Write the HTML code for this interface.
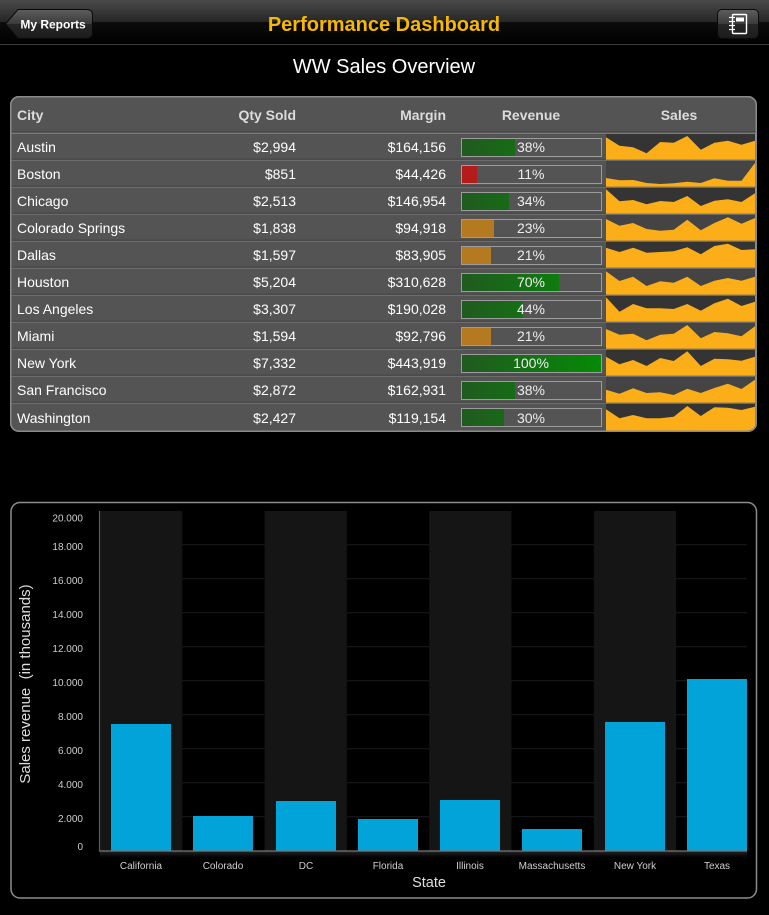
<!DOCTYPE html>
<html><head><meta charset="utf-8">
<style>
html,body{margin:0;padding:0;background:#000;}
body{width:769px;height:915px;position:relative;overflow:hidden;font-family:"Liberation Sans",Arial,sans-serif;}
svg{position:absolute;left:0;top:0;}
</style></head>
<body>
<svg width="769" height="915" viewBox="0 0 769 915" xmlns="http://www.w3.org/2000/svg" font-family="Liberation Sans, Arial, sans-serif">
<defs>
  <linearGradient id="nav" x1="0" y1="0" x2="0" y2="1">
    <stop offset="0" stop-color="#4a4a4a"/>
    <stop offset="0.5" stop-color="#262626"/>
    <stop offset="0.5" stop-color="#0c0c0c"/>
    <stop offset="1" stop-color="#000"/>
  </linearGradient>
  <linearGradient id="btn" x1="0" y1="0" x2="0" y2="1">
    <stop offset="0" stop-color="#5e5e5e"/>
    <stop offset="0.5" stop-color="#3a3a3a"/>
    <stop offset="0.5" stop-color="#262626"/>
    <stop offset="1" stop-color="#1c1c1c"/>
  </linearGradient>
  <linearGradient id="grn" gradientUnits="userSpaceOnUse" x1="462" y1="0" x2="601" y2="0">
    <stop offset="0" stop-color="#215a21"/>
    <stop offset="1" stop-color="#058a05"/>
  </linearGradient>
  <linearGradient id="shd" x1="0" y1="0" x2="0" y2="1">
    <stop offset="0" stop-color="#2a2a2a"/>
    <stop offset="1" stop-color="#000"/>
  </linearGradient>
  <clipPath id="tclip"><rect x="11.5" y="97.5" width="744" height="333" rx="7.5"/></clipPath>
</defs>

<!-- NAV BAR -->
<rect x="0" y="0" width="769" height="44" fill="url(#nav)"/>
<rect x="0" y="44" width="769" height="1" fill="#3a3a3a"/>
<path d="M5.5,24 L18,9.5 L86,9.5 Q92.5,9.5 92.5,15 L92.5,33 Q92.5,38.5 86,38.5 L18,38.5 Z" fill="url(#btn)" stroke="#0a0a0a" stroke-width="1"/>
<text x="53" y="28.5" font-size="12" font-weight="bold" fill="#fff" text-anchor="middle">My Reports</text>
<rect x="717.5" y="9.5" width="41" height="29" rx="4.5" fill="url(#btn)" stroke="#0a0a0a" stroke-width="1"/>
<g fill="none" stroke="#fff" stroke-width="1.4">
  <rect x="732.5" y="14.5" width="14" height="19" rx="1"/>
</g>
<rect x="736" y="17.5" width="8" height="4" fill="#fff"/>
<g stroke="#fff" stroke-width="1.2">
  <line x1="729" y1="17.5" x2="735" y2="17.5"/>
  <line x1="729" y1="21.5" x2="735" y2="21.5"/>
  <line x1="729" y1="25.5" x2="735" y2="25.5"/>
  <line x1="729" y1="29.5" x2="735" y2="29.5"/>
</g>
<text x="384" y="31" font-size="20" font-weight="bold" fill="#f6b800" text-anchor="middle">Performance Dashboard</text>

<text x="384" y="73" font-size="20" fill="#fff" text-anchor="middle">WW Sales Overview</text>

<!-- TABLE -->
<rect x="10.75" y="96.75" width="745.5" height="334.5" rx="8" fill="#545454" stroke="#8a8a8a" stroke-width="1.5"/>
<g clip-path="url(#tclip)">
  <!-- sparkline backgrounds -->
  <rect x="606" y="134" width="150" height="26" fill="#343434"/>
  <rect x="606" y="161" width="150" height="26" fill="#444"/>
  <rect x="606" y="188" width="150" height="26" fill="#343434"/>
  <rect x="606" y="215" width="150" height="26" fill="#444"/>
  <rect x="606" y="242" width="150" height="26" fill="#343434"/>
  <rect x="606" y="269" width="150" height="26" fill="#444"/>
  <rect x="606" y="296" width="150" height="26" fill="#343434"/>
  <rect x="606" y="323" width="150" height="26" fill="#444"/>
  <rect x="606" y="350" width="150" height="26" fill="#343434"/>
  <rect x="606" y="377" width="150" height="26" fill="#444"/>
  <rect x="606" y="404" width="150" height="27" fill="#343434"/>
  <g fill="#fbae18">
    <polygon points="606,137.3 619.5,145.7 633.1,147.3 646.6,153.3 660.2,142 673.7,142.7 687.3,136 700.8,149.7 714.4,142.7 727.9,140.7 741.5,144.7 755,140.7 755,160 606,160"/>
    <polygon points="606,178 619.5,180.3 633.1,180 646.6,183 660.2,184 673.7,183.3 687.3,181.7 700.8,183 714.4,178.3 727.9,180.7 741.5,180.7 755,163 755,187 606,187"/>
    <polygon points="606,189.3 619.5,201.3 633.1,200 646.6,204.3 660.2,201 673.7,202 687.3,196 700.8,206 714.4,200.7 727.9,199.3 741.5,202 755,193.3 755,214 606,214"/>
    <polygon points="606,219 619.5,225.7 633.1,223 646.6,229 660.2,230.7 673.7,229.7 687.3,219.7 700.8,230.3 714.4,223 727.9,217.3 741.5,223.7 755,218 755,241 606,241"/>
    <polygon points="606,247.7 619.5,252 633.1,247.7 646.6,252.7 660.2,252 673.7,251.3 687.3,247.3 700.8,254.3 714.4,246 727.9,243.7 741.5,250 755,249.3 755,268 606,268"/>
    <polygon points="606,271.3 619.5,281 633.1,276.7 646.6,286 660.2,281.3 673.7,282.7 687.3,276.7 700.8,286 714.4,280.7 727.9,278 741.5,280.7 755,276.7 755,295 606,295"/>
    <polygon points="606,297.3 619.5,311.7 633.1,304 646.6,308.3 660.2,308.3 673.7,309 687.3,304 700.8,310.7 714.4,303.3 727.9,298.7 741.5,306 755,301.7 755,322 606,322"/>
    <polygon points="606,329 619.5,334.7 633.1,333.7 646.6,340.3 660.2,334.7 673.7,333.7 687.3,325 700.8,338.3 714.4,332 727.9,333.3 741.5,336.3 755,326.3 755,349 606,349"/>
    <polygon points="606,356.7 619.5,364.3 633.1,360 646.6,366 660.2,358 673.7,361 687.3,351.3 700.8,366 714.4,358.7 727.9,359.3 741.5,360.7 755,356.7 755,376 606,376"/>
    <polygon points="606,389.7 619.5,393.7 633.1,388.3 646.6,393 660.2,392.3 673.7,395 687.3,388.7 700.8,393 714.4,388 727.9,383.7 741.5,389 755,379.7 755,403 606,403"/>
    <polygon points="606,409.3 619.5,418.3 633.1,415 646.6,418.3 660.2,418.3 673.7,416.7 687.3,406 700.8,416 714.4,407.3 727.9,407.7 741.5,410 755,406.7 755,431 606,431"/>
  </g>
  <rect x="755" y="134" width="2" height="298" fill="#8a8a8a"/>
  <!-- separators -->
  <g fill="#6c6c6c">
    <rect x="11" y="132.5" width="745" height="1.5" fill="#7a7a7a"/>
    <rect x="11" y="159.6" width="745" height="1.4"/>
    <rect x="11" y="186.6" width="745" height="1.4"/>
    <rect x="11" y="213.6" width="745" height="1.4"/>
    <rect x="11" y="240.6" width="745" height="1.4"/>
    <rect x="11" y="267.6" width="745" height="1.4"/>
    <rect x="11" y="294.6" width="745" height="1.4"/>
    <rect x="11" y="321.6" width="745" height="1.4"/>
    <rect x="11" y="348.6" width="745" height="1.4"/>
    <rect x="11" y="375.6" width="745" height="1.4"/>
    <rect x="11" y="402.6" width="745" height="1.4"/>
  </g>
  <g fill="#3a3a3a">
    <rect x="11" y="131.5" width="745" height="1"/>
    <rect x="11" y="158.8" width="595" height="0.8"/>
    <rect x="11" y="185.8" width="595" height="0.8"/>
    <rect x="11" y="212.8" width="595" height="0.8"/>
    <rect x="11" y="239.8" width="595" height="0.8"/>
    <rect x="11" y="266.8" width="595" height="0.8"/>
    <rect x="11" y="293.8" width="595" height="0.8"/>
    <rect x="11" y="320.8" width="595" height="0.8"/>
    <rect x="11" y="347.8" width="595" height="0.8"/>
    <rect x="11" y="374.8" width="595" height="0.8"/>
    <rect x="11" y="401.8" width="595" height="0.8"/>
  </g>
</g>
<rect x="10.75" y="96.75" width="745.5" height="334.5" rx="8" fill="none" stroke="#8a8a8a" stroke-width="1.5"/>

<!-- header text -->
<g font-size="14" font-weight="bold" fill="#dcdcdc">
  <text x="17" y="120">City</text>
  <text x="296" y="120" text-anchor="end">Qty Sold</text>
  <text x="446" y="120" text-anchor="end">Margin</text>
  <text x="531" y="120" text-anchor="middle">Revenue</text>
  <text x="679" y="120" text-anchor="middle">Sales</text>
</g>

<!-- revenue fills -->
<rect x="462" y="139" width="53" height="17" fill="url(#grn)"/>
<rect x="462" y="166" width="15" height="17" fill="#b41c1c"/>
<rect x="462" y="193" width="47" height="17" fill="url(#grn)"/>
<rect x="462" y="220" width="32" height="17" fill="#b5791f"/>
<rect x="462" y="247" width="29" height="17" fill="#b5791f"/>
<rect x="462" y="274" width="97" height="17" fill="url(#grn)"/>
<rect x="462" y="301" width="61" height="17" fill="url(#grn)"/>
<rect x="462" y="328" width="29" height="17" fill="#b5791f"/>
<rect x="462" y="355" width="139" height="17" fill="url(#grn)"/>
<rect x="462" y="382" width="53" height="17" fill="url(#grn)"/>
<rect x="462" y="409" width="42" height="17" fill="url(#grn)"/>
<g fill="none" stroke="#9c9c9c" stroke-width="1">
  <rect x="461.5" y="138.5" width="140" height="18"/>
  <rect x="461.5" y="165.5" width="140" height="18"/>
  <rect x="461.5" y="192.5" width="140" height="18"/>
  <rect x="461.5" y="219.5" width="140" height="18"/>
  <rect x="461.5" y="246.5" width="140" height="18"/>
  <rect x="461.5" y="273.5" width="140" height="18"/>
  <rect x="461.5" y="300.5" width="140" height="18"/>
  <rect x="461.5" y="327.5" width="140" height="18"/>
  <rect x="461.5" y="354.5" width="140" height="18"/>
  <rect x="461.5" y="381.5" width="140" height="18"/>
  <rect x="461.5" y="408.5" width="140" height="18"/>
</g>

<!-- row text -->
<g font-size="14" fill="#fff">
  <text x="17" y="152">Austin</text>
  <text x="17" y="179">Boston</text>
  <text x="17" y="206">Chicago</text>
  <text x="17" y="233">Colorado Springs</text>
  <text x="17" y="260">Dallas</text>
  <text x="17" y="287">Houston</text>
  <text x="17" y="314">Los Angeles</text>
  <text x="17" y="341">Miami</text>
  <text x="17" y="368">New York</text>
  <text x="17" y="395">San Francisco</text>
  <text x="17" y="423">Washington</text>
</g>
<g font-size="14" fill="#fff" text-anchor="end">
  <text x="296" y="152">$2,994</text>
  <text x="296" y="179">$851</text>
  <text x="296" y="206">$2,513</text>
  <text x="296" y="233">$1,838</text>
  <text x="296" y="260">$1,597</text>
  <text x="296" y="287">$5,204</text>
  <text x="296" y="314">$3,307</text>
  <text x="296" y="341">$1,594</text>
  <text x="296" y="368">$7,332</text>
  <text x="296" y="395">$2,872</text>
  <text x="296" y="423">$2,427</text>
  <text x="446" y="152">$164,156</text>
  <text x="446" y="179">$44,426</text>
  <text x="446" y="206">$146,954</text>
  <text x="446" y="233">$94,918</text>
  <text x="446" y="260">$83,905</text>
  <text x="446" y="287">$310,628</text>
  <text x="446" y="314">$190,028</text>
  <text x="446" y="341">$92,796</text>
  <text x="446" y="368">$443,919</text>
  <text x="446" y="395">$162,931</text>
  <text x="446" y="423">$119,154</text>
</g>
<g font-size="14" fill="#eee" text-anchor="middle">
  <text x="531" y="152">38%</text>
  <text x="531" y="179">11%</text>
  <text x="531" y="206">34%</text>
  <text x="531" y="233">23%</text>
  <text x="531" y="260">21%</text>
  <text x="531" y="287">70%</text>
  <text x="531" y="314">44%</text>
  <text x="531" y="341">21%</text>
  <text x="531" y="368">100%</text>
  <text x="531" y="395">38%</text>
  <text x="531" y="423">30%</text>
</g>

<!-- CHART -->
<rect x="11" y="502.5" width="745.5" height="395.5" rx="9" fill="#000" stroke="#8c8c8c" stroke-width="1.5"/>
<g stroke="#1c1c1c" stroke-width="1">
  <line x1="100" y1="816.7" x2="747" y2="816.7"/>
  <line x1="100" y1="782.7" x2="747" y2="782.7"/>
  <line x1="100" y1="748.7" x2="747" y2="748.7"/>
  <line x1="100" y1="714.7" x2="747" y2="714.7"/>
  <line x1="100" y1="680.7" x2="747" y2="680.7"/>
  <line x1="100" y1="646.7" x2="747" y2="646.7"/>
  <line x1="100" y1="612.7" x2="747" y2="612.7"/>
  <line x1="100" y1="578.7" x2="747" y2="578.7"/>
  <line x1="100" y1="544.7" x2="747" y2="544.7"/>
</g>
<g fill="#151515">
  <rect x="100" y="511" width="82.3" height="340"/>
  <rect x="264.6" y="511" width="82.3" height="340"/>
  <rect x="429.2" y="511" width="82.3" height="340"/>
  <rect x="593.8" y="511" width="82.3" height="340"/>
</g>
<g fill="#02a3d9">
  <rect x="111" y="724" width="60" height="127"/>
  <rect x="193" y="816" width="60" height="35"/>
  <rect x="276" y="801" width="60" height="50"/>
  <rect x="358" y="819" width="60" height="32"/>
  <rect x="440" y="800" width="60" height="51"/>
  <rect x="522" y="829" width="60" height="22"/>
  <rect x="605" y="722" width="60" height="129"/>
  <rect x="687" y="679" width="60" height="172"/>
</g>
<rect x="100" y="851.5" width="647" height="6" fill="url(#shd)" opacity="0.8"/>
<line x1="99.5" y1="511" x2="99.5" y2="851.5" stroke="#5a5a5a" stroke-width="1.2"/>
<line x1="99" y1="851" x2="747" y2="851" stroke="#777" stroke-width="1.2"/>

<g font-size="10" fill="#cfcfcf" text-anchor="end">
  <text x="83" y="521.5">20.000</text>
  <text x="83" y="550">18.000</text>
  <text x="83" y="584">16.000</text>
  <text x="83" y="618">14.000</text>
  <text x="83" y="652">12.000</text>
  <text x="83" y="686">10.000</text>
  <text x="83" y="720">8.000</text>
  <text x="83" y="754">6.000</text>
  <text x="83" y="788">4.000</text>
  <text x="83" y="822">2.000</text>
  <text x="83" y="850">0</text>
</g>
<text transform="translate(30,684) rotate(-90)" font-size="15" fill="#dedede" text-anchor="middle" style="white-space:pre" xml:space="preserve">Sales revenue  (in thousands)</text>

<g font-size="10" fill="#cfcfcf" text-anchor="middle">
  <text x="141" y="869">California</text>
  <text x="223" y="869">Colorado</text>
  <text x="306" y="869">DC</text>
  <text x="388" y="869">Florida</text>
  <text x="470" y="869">Illinois</text>
  <text x="552" y="869">Massachusetts</text>
  <text x="635" y="869">New York</text>
  <text x="717" y="869">Texas</text>
</g>
<text x="429" y="887" font-size="14.5" fill="#dedede" text-anchor="middle">State</text>
</svg>
</body></html>
